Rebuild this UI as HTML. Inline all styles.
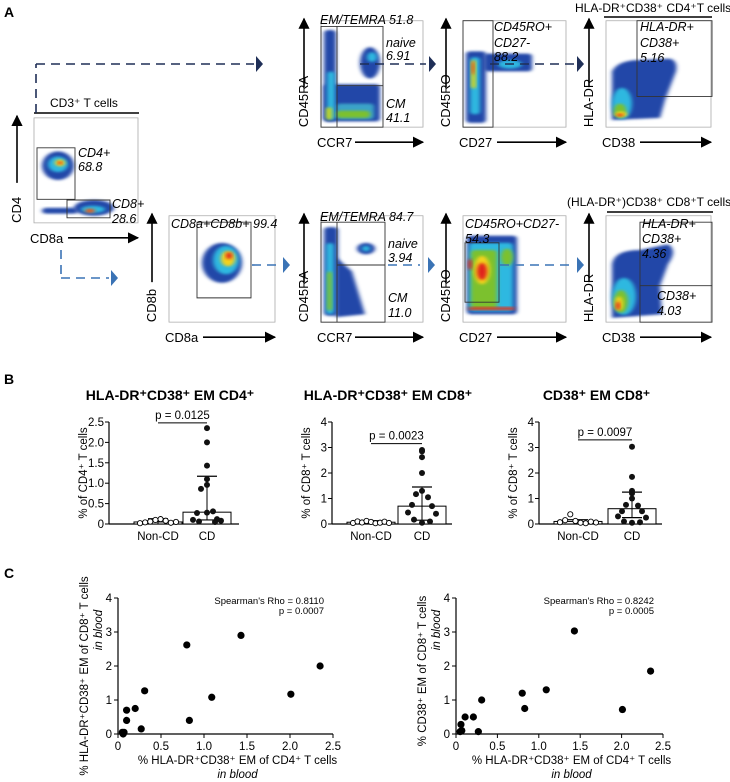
<!DOCTYPE html>
<html><head><meta charset="utf-8">
<style>
html,body{margin:0;padding:0;background:#fff;}
svg{display:block;font-family:"Liberation Sans",sans-serif;}
</style></head>
<body>
<svg id="fig" width="730" height="782" viewBox="0 0 730 782" xmlns="http://www.w3.org/2000/svg">
<defs>
<filter id="bl" x="-30%" y="-30%" width="160%" height="160%"><feGaussianBlur stdDeviation="2"/></filter>
<marker id="ah" viewBox="0 0 10 10" refX="9" refY="5" markerWidth="7" markerHeight="7" orient="auto"><path d="M0,0L10,5L0,10z" fill="#000"/></marker>
</defs>
<g id="panelA">
  <g id="Ashapes" transform="scale(1,0.7143)"></g>
</g>
<g id="panelB"></g>
<g id="panelC"></g>
</svg>
<script>
// ---------- Panel B data ----------
const bTitles = ["HLA-DR\u207aCD38\u207a EM CD4\u207a","HLA-DR\u207aCD38\u207a EM CD8\u207a","CD38\u207a EM CD8\u207a"];
const bYLabels = ["% of CD4\u207a T cells","% of CD8\u207a T cells","% of CD8\u207a T cells"];
const bCategories = ["Non-CD","CD"];
const bPvals = ["p = 0.0125","p = 0.0023","p = 0.0097"];
const bYMax = [2.5,4,4];
const bTicks1 = [0,0.5,1.0,1.5,2.0,2.5];
const bTicks2 = [0,1,2,3,4];
const bBarNonCD = [0.05,0.07,0.1];
const bBarCD = [0.29,0.7,0.6];
const bErrNonCD = [0.13,0.13,0.17];
const bErrCDHi = [1.17,1.45,1.25];
const bErrCDLo = [0.1,0.15,0.25];
const bPLineY = [2.48,3.15,3.3];
const b1NonCD = [0.02,0.04,0.06,0.1,0.12,0.08,0.03,0.05];
const b1CD = [2.35,2.0,1.43,1.1,0.96,0.86,0.31,0.27,0.12,0.1,0.08,0.06,0.05,0.28];
const b2NonCD = [0.04,0.1,0.06,0.12,0.08,0.03,0.05,0.09,0.04];
const b2CD = [2.9,2.85,2.62,2.0,1.3,1.17,1.05,0.75,0.7,0.45,0.4,0.17,0.1,0.05];
const b3NonCD = [0.07,0.15,0.38,0.12,0.05,0.03,0.09,0.06];
const b3CD = [3.03,1.85,1.3,1.2,1.0,0.75,0.72,0.5,0.5,0.3,0.25,0.1,0.07,0.05];
// ---------- Panel C data ----------
const c1X = [0.05,0.07,0.1,0.1,0.2,0.27,0.31,0.8,0.83,1.09,1.43,2.01,2.35,0.06];
const c1Y = [0.05,0.05,0.4,0.7,0.75,0.15,1.27,2.62,0.4,1.08,2.9,1.17,2.0,0.0];
const c2X = [0.05,0.06,0.07,0.11,0.21,0.27,0.31,0.8,0.83,1.09,1.43,2.01,2.35];
const c2Y = [0.07,0.28,0.1,0.5,0.5,0.07,1.0,1.2,0.75,1.3,3.03,0.72,1.85];
const cXTicks = [0,0.5,1.0,1.5,2.0,2.5];
const cYTicks = [0,1,2,3,4];
const cRho = ["Spearman's Rho = 0.8110","Spearman's Rho = 0.8242"];
const cP = ["p = 0.0007","p = 0.0005"];

const NS="http://www.w3.org/2000/svg";
function mk(parent,tag,attrs,text){const e=document.createElementNS(NS,tag);for(const k in attrs)e.setAttribute(k,attrs[k]);if(text!==undefined)e.textContent=text;parent.appendChild(e);return e;}

// ---------- Panel A ----------
const K=0.7143;
const A=document.getElementById('panelA');
const S=document.getElementById('Ashapes');
const lblA=mk(A,'text',{x:4,y:17,'font-size':14,'font-weight':'bold'},'A');



function flowPlot(x,y,w,h,yl,xl,name){
  const g=mk(S,'g',{});
  
  
  mk(g,'rect',{x:x,y:y,width:w,height:h,fill:'#fff',stroke:'#aaa','stroke-width':0.8,'vector-effect':'non-scaling-stroke'});
  const T=y*K, B=(y+h)*K;
  mk(A,'line',{x1:x-17,y1:B-40,x2:x-17,y2:T-2,stroke:'#000','stroke-width':1.6,'marker-end':'url(#ah)'});
  const yt=mk(A,'text',{x:0,y:0,'font-size':13,transform:`translate(${x-13},${B}) rotate(-90)`},yl);
  
  
  const xt=mk(A,'text',{x:x-4,y:B+20,'font-size':13},xl);
  
  
  mk(A,'line',{x1:x+xl.length*8+2,y1:B+15,x2:x+w,y2:B+15,stroke:'#000','stroke-width':1.6,'marker-end':'url(#ah)'});
  return g;
}
function blob(g,cx,cy,rx,ry,col){mk(g,'ellipse',{cx:cx,cy:cy,rx:rx,ry:ry,fill:col,filter:'url(#bl)'});}
function rectB(g,x,y,w,h,col){mk(g,'rect',{x:x,y:y,width:w,height:h,rx:4,fill:col,filter:'url(#bl)'});}
function txt(x,y,s,name){const t=mk(A,'text',{x:x,y:y,'font-size':12.5,'font-style':'italic'},s);return t;}
function gate(g,x,y,w,h){mk(g,'rect',{x:x,y:y,width:w,height:h,fill:'none',stroke:'#333','stroke-width':0.9,'vector-effect':'non-scaling-stroke'});}
function gl(g,x1,y1,x2,y2){mk(g,'line',{x1:x1,y1:y1,x2:x2,y2:y2,stroke:'#333','stroke-width':0.9,'vector-effect':'non-scaling-stroke'});}
function dash(x1,y1,x2,y2,col){mk(A,'line',{x1:x1,y1:y1,x2:x2,y2:y2,stroke:col,'stroke-width':1.6,'stroke-dasharray':'9,6'});}
function tri(x,y,col){mk(A,'path',{d:`M${x},${y-8}L${x+7},${y}L${x},${y+8}z`,fill:col});}

// CD3 header
const h1=mk(A,'text',{x:50,y:107,'font-size':12},'CD3\u207a T cells');


mk(A,'line',{x1:34,y1:113,x2:139,y2:113,stroke:'#000','stroke-width':1.5});
// CD4/CD8a plot
let g=flowPlot(34,165,104,147,'CD4','CD8a','cd4-cd8a-plot');
blob(g,58,232,16,20,'#2347a8');blob(g,58,230,10,11,'#2fb8e0');blob(g,60,228,5,5,'#f3d21a');blob(g,60,228,2,2,'#e0201a');
rectB(g,42,291,36,8,'#2347a8');blob(g,94,291,20,11,'#2347a8');blob(g,93,293,12,5,'#2fb8e0');blob(g,90,295,5,3,'#e55a1a');
gate(g,37,207,38,72);gate(g,67,280,43,25);
txt(78,157,'CD4+','cd4-gate-label');txt(78,171,'68.8','cd4-gate-value');
txt(112,208,'CD8+','cd8-gate-label');txt(112,223,'28.6','cd8-gate-value');

// Top row
g=flowPlot(321,29,102,149,'CD45RA','CCR7','cd4-ccr7-plot');
rectB(g,324,42,12,128,'#2347a8');rectB(g,324,118,56,52,'#2347a8');blob(g,370,88,10,22,'#2347a8');
rectB(g,327,100,8,68,'#2fb8e0');rectB(g,336,145,38,22,'#3aa3c8');rectB(g,336,155,34,10,'#7cc12e');blob(g,372,80,5,7,'#2fb8e0');
rectB(g,326,150,6,18,'#c8d61a');
gate(g,321,37,62,141);gl(g,337,37,337,178);gl(g,337,120,383,120);
txt(320,24,'EM/TEMRA 51.8','em-temra-cd4');txt(386,47,'naive','naive-label-cd4');txt(386,60,'6.91','naive-value-cd4');txt(386,108,'CM','cm-label-cd4');txt(386,122,'41.1','cm-value-cd4');

g=flowPlot(463,29,103,149,'CD45RO','CD27','cd4-cd27-plot');
rectB(g,466,72,20,100,'#2347a8');rectB(g,484,75,48,25,'#2347a8');rectB(g,470,80,10,80,'#2fb8e0');blob(g,510,90,12,6,'#2fb8e0');rectB(g,471,84,5,40,'#d6d41a');blob(g,473,95,1.5,10,'#e0401a');
gate(g,463,29,30,149);
txt(494,31,'CD45RO+','cd45ro-label-cd4');txt(494,47,'CD27-','cd27-label-cd4');txt(494,61,'88.2','cd45ro-value-cd4');

g=flowPlot(606,29,105,149,'HLA-DR','CD38','cd4-cd38-plot');
mk(g,'path',{d:'M612,100 Q618,84 640,84 L670,82 Q678,85 676,100 L665,140 L660,165 L612,168z',fill:'#2347a8',filter:'url(#bl)'});
blob(g,622,145,10,22,'#2fb8e0');blob(g,620,155,6,10,'#7cc12e');blob(g,621,160,6,4,'#f3d21a');blob(g,620,161,3,2,'#e0201a');
gate(g,637,29,75,106);
txt(640,31,'HLA-DR+','hladr-label-cd4');txt(640,47,'CD38+','hladr-cd38-label-cd4');txt(640,62,'5.16','hladr-value-cd4');
const h2=mk(A,'text',{x:575,y:12,'font-size':12},'HLA-DR\u207aCD38\u207a CD4\u207aT cells');


mk(A,'line',{x1:604,y1:17,x2:712,y2:17,stroke:'#000','stroke-width':1.5});

// Bottom row
g=flowPlot(169,302,106,149,'CD8b','CD8a','cd8b-cd8a-plot');
blob(g,222,368,20,28,'#2347a8');blob(g,226,364,13,20,'#2fb8e0');blob(g,228,362,7,11,'#f3d21a');blob(g,229,358,3,5,'#e0201a');
gate(g,197,311,54,106);
txt(171,228,'CD8a+CD8b+ 99.4','cd8a-cd8b-gate');

g=flowPlot(321,302,102,149,'CD45RA','CCR7','cd8-ccr7-plot');
rectB(g,324,318,14,124,'#2347a8');mk(g,'path',{d:'M336,360 L352,380 L365,440 L336,444z',fill:'#2347a8',filter:'url(#bl)'});
blob(g,366,348,9,8,'#2347a8');blob(g,366,348,4,4,'#2fb8e0');rectB(g,326,340,8,100,'#2fb8e0');rectB(g,327,380,5,55,'#7cc12e');
gate(g,321,311,64,140);gl(g,337,311,337,451);gl(g,337,371,385,371);
txt(320,221,'EM/TEMRA 84.7','em-temra-cd8');txt(388,248,'naive','naive-label-cd8');txt(388,262,'3.94','naive-value-cd8');txt(388,302,'CM','cm-label-cd8');txt(388,317,'11.0','cm-value-cd8');

g=flowPlot(463,302,103,149,'CD45RO','CD27','cd8-cd27-plot');
rectB(g,467,330,50,110,'#2347a8');rectB(g,469,340,44,96,'#2fb8e0');rectB(g,471,350,26,82,'#7cc12e');blob(g,507,360,6,12,'#7cc12e');
blob(g,482,378,8,20,'#f3d21a');blob(g,482,380,5,12,'#e0201a');blob(g,470,370,2,8,'#e0201a');rectB(g,468,430,47,4,'#e0301a');
gate(g,465,340,34,83);
txt(465,228,'CD45RO+CD27-','cd45ro-label-cd8');txt(465,243,'54.3','cd45ro-value-cd8');

g=flowPlot(606,302,105,149,'HLA-DR','CD38','cd8-cd38-plot');
mk(g,'path',{d:'M612,370 Q614,350 640,350 L668,342 Q678,350 668,370 L660,400 L662,440 L612,445z',fill:'#2347a8',filter:'url(#bl)'});
blob(g,624,415,12,26,'#2fb8e0');blob(g,621,422,7,16,'#7cc12e');blob(g,619,425,4,10,'#f3d21a');blob(g,618,428,2,6,'#e0201a');
gate(g,640,311,72,140);gl(g,640,400,712,400);
txt(642,228,'HLA-DR+','hladr-label-cd8');txt(642,243,'CD38+','hladr-cd38-label-cd8');txt(642,258,'4.36','hladr-value-cd8');
txt(657,300,'CD38+','cd38-label-cd8');txt(657,315,'4.03','cd38-value-cd8');
const h3=mk(A,'text',{x:567,y:206,'font-size':12},'(HLA-DR\u207a)CD38\u207a CD8\u207aT cells');


mk(A,'line',{x1:607,y1:212,x2:713,y2:212,stroke:'#000','stroke-width':1.5});

// Dashed arrows
const dk='#1f2f57', lb='#3a73b5';
dash(36,113,36,64,dk);dash(36,64,254,64,dk);tri(256,64,dk);
dash(360,64,426,64,dk);tri(429,64,dk);dash(490,64,574,64,dk);tri(577,64,dk);
dash(61,250,61,278,lb);dash(61,278,109,278,lb);tri(111,278,lb);
dash(252,265,280,265,lb);tri(283,265,lb);dash(388,265,420,265,lb);tri(428,265,lb);dash(500,265,572,265,lb);tri(577,265,lb);

// ---------- Panel B ----------
const Bp=document.getElementById('panelB');
const lblB=mk(Bp,'text',{x:4,y:384,'font-size':14,'font-weight':'bold'},'B');


const bAxisX=[109,332,539], bAxisEnd=[239,452,662], bNonX=[158,371,578], bCdX=[207,422,632];
const bNon=[b1NonCD,b2NonCD,b3NonCD], bCd=[b1CD,b2CD,b3CD], bTicks=[bTicks1,bTicks2,bTicks2];
const bY0=524, bYTop=422;
for(let i=0;i<3;i++){
  const gg=mk(Bp,'g',{});
  
  
  const ys=v=>bY0-(v/bYMax[i])*(bY0-bYTop);
  const ax=bAxisX[i];
  const t=mk(gg,'text',{x:(ax+bAxisEnd[i])/2-4,y:400,'font-size':14,'font-weight':'bold','text-anchor':'middle'},bTitles[i]);
  
  
  mk(gg,'line',{x1:ax,y1:bYTop,x2:ax,y2:bY0,stroke:'#000','stroke-width':1.2});
  mk(gg,'line',{x1:ax,y1:bY0,x2:bAxisEnd[i],y2:bY0,stroke:'#000','stroke-width':1.2});
  bTicks[i].forEach(v=>{
    mk(gg,'line',{x1:ax-4,y1:ys(v),x2:ax,y2:ys(v),stroke:'#000','stroke-width':1});
    const tl=mk(gg,'text',{x:ax-5,y:ys(v)+4,'font-size':11.5,'text-anchor':'end'},i===0&&v!==0?v.toFixed(1):String(v));
    
    
  });
  const yl=mk(gg,'text',{x:0,y:0,'font-size':11.5,'text-anchor':'middle',transform:`translate(${ax-22},${(bYTop+bY0)/2}) rotate(-90)`},bYLabels[i]);
  
  
  const cx=[bNonX[i],bCdX[i]], bars=[bBarNonCD[i],bBarCD[i]];
  for(let k=0;k<2;k++){
    const r=mk(gg,'rect',{x:cx[k]-24,y:ys(bars[k]),width:48,height:bY0-ys(bars[k]),fill:'#fff',stroke:'#000','stroke-width':1});
    
    
    const cl=mk(gg,'text',{x:cx[k],y:540,'font-size':11.5,'text-anchor':'middle'},bCategories[k]);
    
    
  }
  const eHi=[bErrNonCD[i],bErrCDHi[i]], eLo=[0,bErrCDLo[i]];
  for(let k=0;k<2;k++){
    mk(gg,'line',{x1:cx[k],y1:ys(eHi[k]),x2:cx[k],y2:ys(eLo[k]),stroke:'#000','stroke-width':1});
    mk(gg,'line',{x1:cx[k]-10,y1:ys(eHi[k]),x2:cx[k]+10,y2:ys(eHi[k]),stroke:'#000','stroke-width':1.2});
    if(k===1)mk(gg,'line',{x1:cx[k]-10,y1:ys(eLo[k]),x2:cx[k]+10,y2:ys(eLo[k]),stroke:'#000','stroke-width':1.2});
  }
  bNon[i].forEach((v,j)=>{
    const n=bNon[i].length, x=cx[0]-18+36*j/(n-1);
    const c=mk(gg,'circle',{cx:x,cy:ys(v),r:2.6,fill:'#fff',stroke:'#000','stroke-width':0.9});
    
    
  });
  bCd[i].forEach((v,j)=>{
    const off=[0,0,0,0,0,-6,6,-10,10,-14,14,-8,8,0][j%14];
    const c=mk(gg,'circle',{cx:cx[1]+off,cy:ys(v),r:3,fill:'#111'});
    
    
  });
  const py=ys(bPLineY[i]);
  mk(gg,'line',{x1:cx[0],y1:py,x2:cx[1],y2:py,stroke:'#000','stroke-width':1});
  const pt=mk(gg,'text',{x:(cx[0]+cx[1])/2,y:py-4,'font-size':11.5,'text-anchor':'middle'},bPvals[i]);
  
  
}

// ---------- Panel C ----------
const C=document.getElementById('panelC');
const lblC=mk(C,'text',{x:4,y:578,'font-size':14,'font-weight':'bold'},'C');


const cX0=[118,456], cX1=[333,663], cYL=[["% HLA-DR\u207aCD38\u207a EM of CD8\u207a T cells"],["% CD38\u207a EM of CD8\u207a T cells"]];
const cXs=[c1X,c2X], cYs=[c1Y,c2Y];
const cY0=734, cYTop=598;
for(let i=0;i<2;i++){
  const gg=mk(C,'g',{});
  
  
  const xs=v=>cX0[i]+(v/2.5)*(cX1[i]-cX0[i]);
  const ys=v=>cY0-(v/4)*(cY0-cYTop);
  mk(gg,'line',{x1:cX0[i],y1:cYTop,x2:cX0[i],y2:cY0,stroke:'#000','stroke-width':1.2});
  mk(gg,'line',{x1:cX0[i],y1:cY0,x2:cX1[i],y2:cY0,stroke:'#000','stroke-width':1.2});
  cYTicks.forEach(v=>{
    mk(gg,'line',{x1:cX0[i]-4,y1:ys(v),x2:cX0[i],y2:ys(v),stroke:'#000','stroke-width':1});
    const tl=mk(gg,'text',{x:cX0[i]-6,y:ys(v)+4,'font-size':11.5,'text-anchor':'end'},String(v));
    
    
  });
  cXTicks.forEach(v=>{
    mk(gg,'line',{x1:xs(v),y1:cY0,x2:xs(v),y2:cY0+4,stroke:'#000','stroke-width':1});
    const tl=mk(gg,'text',{x:xs(v),y:cY0+16,'font-size':11.5,'text-anchor':'middle'},v===0?'0':v.toFixed(1));
    
    
  });
  const xl=mk(gg,'text',{x:(cX0[i]+cX1[i])/2+12,y:764,'font-size':11.5,'text-anchor':'middle'},"% HLA-DR\u207aCD38\u207a EM of CD4\u207a T cells");
  
  
  const xl2=mk(gg,'text',{x:(cX0[i]+cX1[i])/2+12,y:778,'font-size':11.5,'font-style':'italic','text-anchor':'middle'},'in blood');
  
  
  const yx=cX0[i]-30;
  const yl=mk(gg,'text',{x:0,y:0,'font-size':11.5,'text-anchor':'middle',transform:`translate(${yx},${666+(i===0?10:5)}) rotate(-90)`},cYL[i][0]);
  
  
  const yl2=mk(gg,'text',{x:0,y:0,'font-size':11.5,'font-style':'italic','text-anchor':'middle',transform:`translate(${yx+14},630) rotate(-90)`},'in blood');
  
  
  const r1=mk(gg,'text',{x:cX1[i]-9,y:604,'font-size':9.5,'text-anchor':'end'},cRho[i]);
  
  
  const r2=mk(gg,'text',{x:cX1[i]-9,y:614,'font-size':9.5,'text-anchor':'end'},cP[i]);
  
  
  cXs[i].forEach((v,j)=>{
    const c=mk(gg,'circle',{cx:xs(v),cy:ys(cYs[i][j]),r:3.6,fill:'#000'});
    
    
  });
}
</script>
</body></html>
